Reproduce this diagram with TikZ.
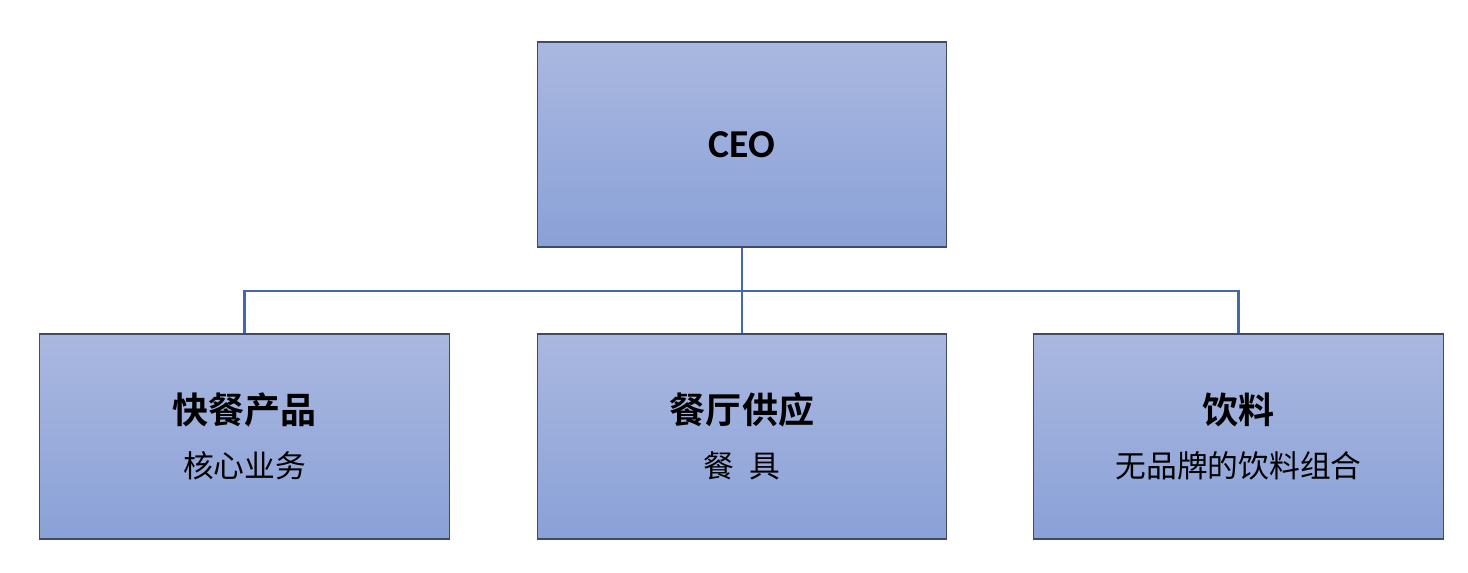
\documentclass[tikz,border=0pt]{standalone}
\usepackage{fontspec}
\setmainfont{Noto Sans CJK SC}[BoldFont={Noto Sans CJK SC Bold}]
\newfontfamily\latinfont{Carlito}
\usetikzlibrary{positioning}
\definecolor{boxtop}{HTML}{AAB8E0}
\definecolor{boxbottom}{HTML}{8AA1D7}
\definecolor{boxline}{HTML}{414B68}
\definecolor{linkcolor}{HTML}{4467AE}
\newcommand{\titlesize}{\fontsize{20.5pt}{33pt}\selectfont}
\newcommand{\subsize}{\fontsize{17.5pt}{33pt}\selectfont}

\begin{document}
\begin{tikzpicture}[x=0.02cm,y=-0.02cm]
\tikzset{
  orgbox/.style={draw=boxline, line width=0.6pt, top color=boxtop, bottom color=boxbottom,
    minimum width=8.2cm, minimum height=4.1cm, align=center, inner sep=0pt},
  link/.style={draw=linkcolor, line width=1.2pt}
}
\useasboundingbox (0,0) rectangle (1468,572);
\node[orgbox] (ceo) at (742,144.5) {\latinfont\bfseries\fontsize{22.5pt}{26pt}\selectfont CEO};
\node[orgbox] (fast) at (244.5,436.5) {{\titlesize\bfseries 快餐产品}\\[13pt]{\subsize 核心业务}};
\node[orgbox] (supply) at (742,436.5) {{\titlesize\bfseries 餐厅供应}\\[13pt]{\subsize 餐\hspace{0.5em}具}};
\node[orgbox] (drink) at (1238.5,436.5) {{\titlesize\bfseries 饮料}\\[13pt]{\subsize 无品牌的饮料组合}};
% connectors
\coordinate (bus) at (742,291);
\draw[link] (ceo.south) -- (bus);
\draw[link] (bus) -| (fast.north);
\draw[link] (bus) -| (drink.north);
\draw[link] (bus) -- (supply.north);
\end{tikzpicture}
\end{document}
